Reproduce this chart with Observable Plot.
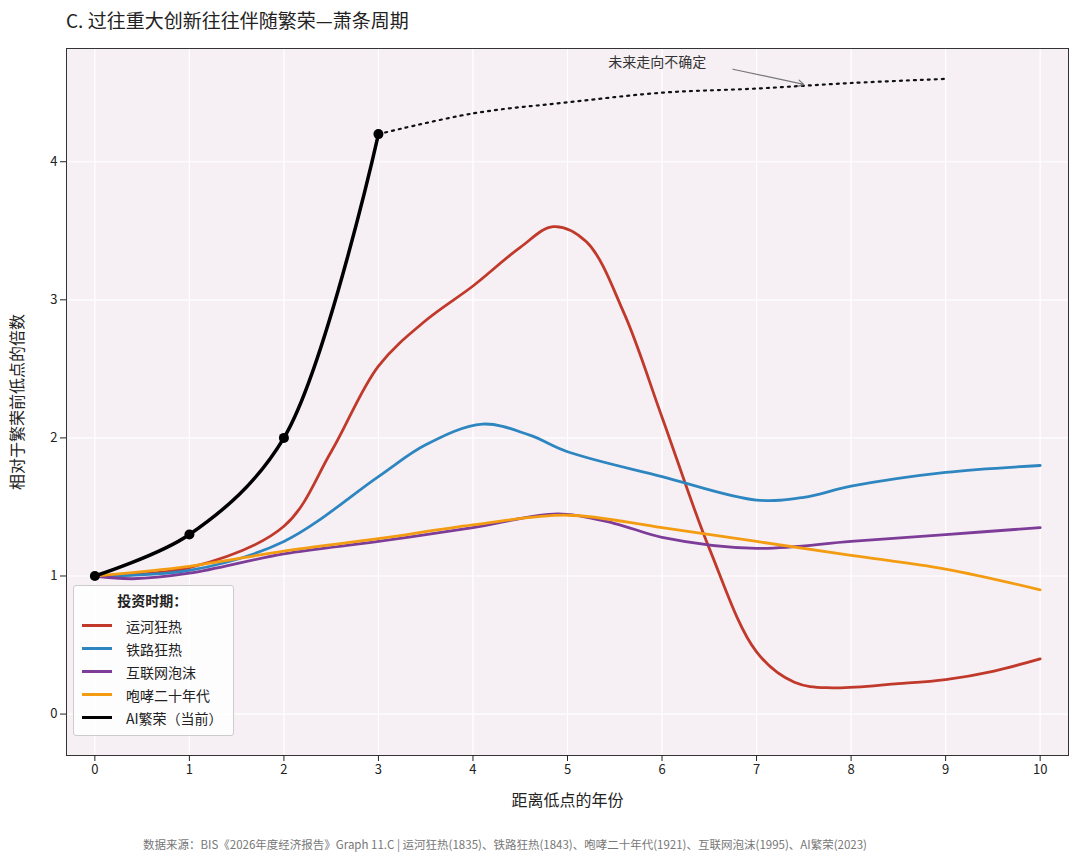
<!DOCTYPE html>
<html><head><meta charset="utf-8">
<script src="https://cdn.jsdelivr.net/npm/d3@7"></script>
<script src="https://cdn.jsdelivr.net/npm/@observablehq/plot@0.6"></script>
<style>
body{margin:0;background:#fff;font-family:"Noto Sans CJK SC","Noto Sans",sans-serif;width:1080px;height:863px;position:relative;overflow:hidden}
#title{position:absolute;left:66px;top:6px;font-size:19px;color:#222}
#legend{position:absolute;left:73px;top:585px;background:rgba(255,255,255,0.85);border:1px solid #ccc;border-radius:3px;padding:4px 10px 6px 8px;font-size:14px;color:#222}
#legend .h{font-weight:bold;text-align:center;margin:0 0 4px 0}
#legend .r{display:flex;align-items:center;height:23px}
#legend .s{width:30px;height:0;margin-right:14px}
#cap{position:absolute;top:836px;left:0;width:1010px;text-align:center;font-size:11.5px;color:#777}
#chart{position:absolute;left:0;top:0}
</style></head><body>
<div id="chart"></div>
<div id="title">C. 过往重大创新往往伴随繁荣—萧条周期</div>
<div id="legend"></div>
<div id="cap">数据来源：BIS《2026年度经济报告》Graph 11.C | 运河狂热(1835)、铁路狂热(1843)、咆哮二十年代(1921)、互联网泡沫(1995)、AI繁荣(2023)</div>
<script>
const canalX = [0,1,2,2.5,3,3.5,4,4.5,4.85,5.2,5.6,6,6.5,7,7.4,7.8,8.5,9,9.5,10];
const canalY = [1,1.06,1.36,1.9,2.52,2.85,3.1,3.38,3.53,3.42,2.9,2.15,1.2,0.45,0.23,0.19,0.22,0.25,0.31,0.4];
const railX = [0,1,2,3,3.5,4.1,4.6,5,6,7,7.5,8,9,10];
const railY = [1,1.04,1.25,1.72,1.95,2.1,2.02,1.9,1.72,1.55,1.57,1.65,1.75,1.8];
const netX = [0,0.4,1,2,3,4,4.9,5.5,6,7,8,9,10];
const netY = [1,0.98,1.02,1.16,1.25,1.35,1.45,1.38,1.28,1.2,1.25,1.3,1.35];
const roarX = [0,1,2,3,4,5,6,7,8,9,10];
const roarY = [1,1.07,1.18,1.27,1.37,1.44,1.35,1.25,1.15,1.05,0.9];
const aiX = [0,1,2,3];
const aiY = [1,1.3,2,4.2];
const futX = [3,4,5,6,7,8,9];
const futY = [4.2,4.35,4.43,4.5,4.53,4.57,4.6];
const names = ["运河狂热","铁路狂热","互联网泡沫","咆哮二十年代","AI繁荣（当前）"];
const colors = ["#c0392b","#2e86c1","#7d3c98","#f39c12","#000000"];
const xTicks = [0,1,2,3,4,5,6,7,8,9,10];
const yTicks = [0,1,2,3,4];

const zip = (xs, ys) => xs.map((x, i) => ({x, y: ys[i]}));
const series = [zip(canalX,canalY), zip(railX,railY), zip(netX,netY), zip(roarX,roarY)];

const chart = Plot.plot({
  width: 1080, height: 820,
  marginLeft: 66, marginRight: 12, marginTop: 48, marginBottom: 65,
  style: {fontFamily: '"Noto Sans CJK SC","Noto Sans",sans-serif', fontSize: "13px", color: "#222"},
  x: {domain: [-0.3, 10.3]},
  y: {domain: [-0.3, 4.82]},
  marks: [
    Plot.frame({fill: "#f6f0f4"}),
    Plot.gridX(xTicks, {stroke: "#fff", strokeOpacity: 1, strokeWidth: 1.2}),
    Plot.gridY(yTicks, {stroke: "#fff", strokeOpacity: 1, strokeWidth: 1.2}),
    ...series.map((d, i) => Plot.line(d, {x: "x", y: "y", stroke: colors[i], strokeWidth: 2.8, curve: "catmull-rom"})),
    Plot.line(zip(futX, futY), {x: "x", y: "y", stroke: "#111", strokeWidth: 2.2, strokeDasharray: "2,5", curve: "catmull-rom"}),
    Plot.line(zip(aiX, aiY), {x: "x", y: "y", stroke: "#000", strokeWidth: 3.5, curve: "catmull-rom"}),
    Plot.dot(zip(aiX, aiY), {x: "x", y: "y", fill: "#000", r: 5}),
    Plot.arrow([{x1: 6.75, y1: 4.67, x2: 7.5, y2: 4.56}], {x1: "x1", y1: "y1", x2: "x2", y2: "y2", stroke: "#777", strokeWidth: 1.2, headLength: 8}),
    Plot.text([{x: 5.95, y: 4.72, t: "未来走向不确定"}], {x: "x", y: "y", text: "t", fontSize: 14, fill: "#333"}),
    Plot.frame({stroke: "#333"}),
    Plot.axisX(xTicks, {tickFormat: d => d, label: "距离低点的年份", labelAnchor: "center", labelArrow: "none", labelOffset: 50, fontSize: 13}),
    Plot.axisY(yTicks, {tickFormat: d => d, label: "相对于繁荣前低点的倍数", labelAnchor: "center", labelOffset: 55, labelArrow: "none", fontSize: 13})
  ]
});
chart.querySelectorAll('[aria-label="x-axis label"] text, [aria-label="y-axis label"] text').forEach(t => t.style.fontSize = "16px");
document.getElementById("chart").append(chart);

const lg = d3.select("#legend");
lg.append("div").attr("class", "h").text("投资时期：");
names.forEach((n, i) => {
  const r = lg.append("div").attr("class", "r");
  r.append("div").attr("class", "s").style("border-top", `${i === 4 ? 3.5 : 3}px solid ${colors[i]}`);
  r.append("span").text(n);
});
</script>
</body></html>
